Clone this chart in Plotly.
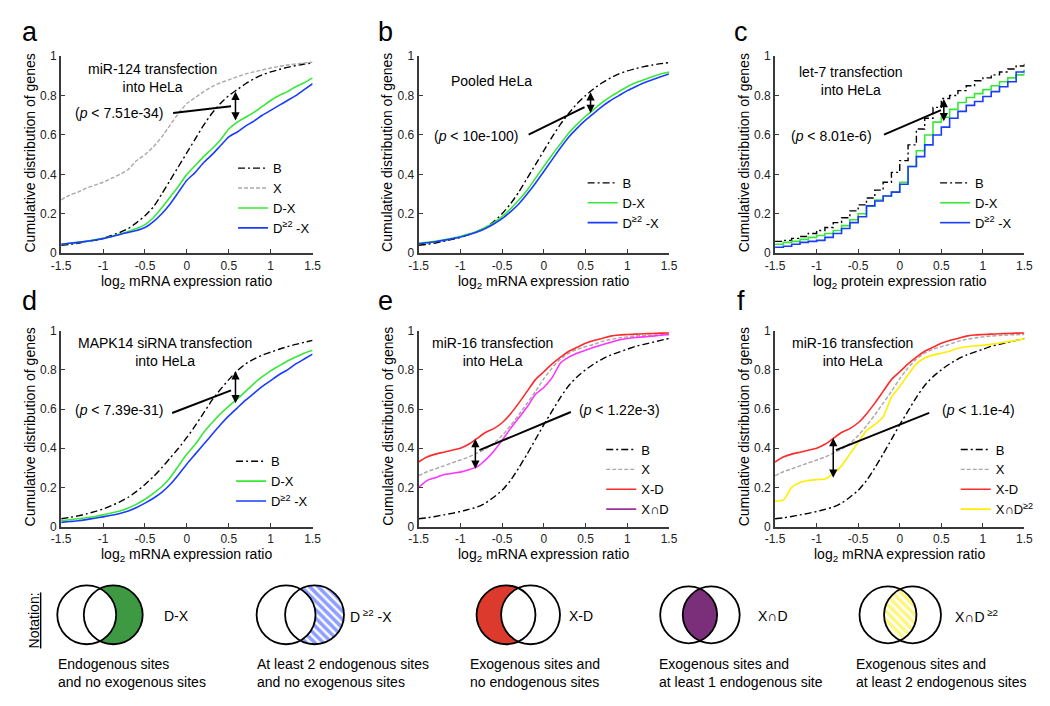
import numpy as np
import plotly.graph_objects as go

W, H = 1050, 706
FONT = "Liberation Sans, Arial, Helvetica, sans-serif"

# ---------------- data ----------------
log2_ratio = [-1.5, -1.4, -1.3, -1.2, -1.1, -1.0, -0.9, -0.8, -0.7, -0.6, -0.5,
              -0.4, -0.3, -0.2, -0.1, 0.0, 0.1, 0.2, 0.3, 0.4, 0.5,
              0.6, 0.7, 0.8, 0.9, 1.0, 1.1, 1.2, 1.3, 1.4, 1.5]
x_ticks = [-1.5, -1, -0.5, 0, 0.5, 1, 1.5]
x_ticktext = ["-1.5", "-1", "-0.5", "0", "0.5", "1", "1.5"]
y_ticks = [0, 0.2, 0.4, 0.6, 0.8, 1]
y_ticktext = ["0", "0.2", "0.4", "0.6", "0.8", "1"]

# panel a: miR-124 transfection
a_B = [0.04, 0.045, 0.05, 0.06, 0.065, 0.075, 0.09, 0.105, 0.125, 0.155, 0.19,
       0.235, 0.30, 0.37, 0.44, 0.51, 0.58, 0.65, 0.71, 0.76, 0.80,
       0.83, 0.86, 0.885, 0.905, 0.92, 0.932, 0.943, 0.952, 0.96, 0.966]
a_X = [0.27, 0.295, 0.31, 0.33, 0.345, 0.36, 0.38, 0.40, 0.425, 0.47, 0.50,
       0.54, 0.59, 0.65, 0.71, 0.76, 0.79, 0.82, 0.845, 0.865, 0.88,
       0.895, 0.91, 0.92, 0.93, 0.94, 0.948, 0.955, 0.96, 0.965, 0.97]
a_DX = [0.045, 0.05, 0.055, 0.06, 0.068, 0.075, 0.085, 0.097, 0.11, 0.125, 0.145,
        0.18, 0.23, 0.285, 0.34, 0.40, 0.445, 0.49, 0.53, 0.575, 0.63,
        0.665, 0.69, 0.715, 0.745, 0.775, 0.80, 0.82, 0.845, 0.865, 0.89]
a_D2X = [0.045, 0.05, 0.055, 0.06, 0.067, 0.074, 0.083, 0.095, 0.105, 0.115, 0.13,
         0.16, 0.20, 0.25, 0.31, 0.37, 0.41, 0.46, 0.50, 0.545, 0.59,
         0.615, 0.645, 0.67, 0.70, 0.725, 0.75, 0.775, 0.80, 0.83, 0.86]

# panel b: pooled HeLa
b_B = [0.04, 0.045, 0.052, 0.06, 0.07, 0.08, 0.095, 0.11, 0.13, 0.16, 0.20,
       0.25, 0.31, 0.38, 0.45, 0.52, 0.59, 0.655, 0.71, 0.76, 0.80,
       0.835, 0.865, 0.89, 0.91, 0.925, 0.937, 0.947, 0.955, 0.962, 0.967]
b_DX = [0.05, 0.055, 0.06, 0.068, 0.076, 0.085, 0.097, 0.11, 0.13, 0.155, 0.185,
        0.225, 0.27, 0.32, 0.38, 0.44, 0.50, 0.555, 0.61, 0.655, 0.695,
        0.73, 0.765, 0.795, 0.82, 0.845, 0.865, 0.88, 0.895, 0.91, 0.92]
b_D2X = [0.048, 0.053, 0.058, 0.065, 0.073, 0.082, 0.094, 0.107, 0.125, 0.148, 0.175,
         0.21, 0.25, 0.30, 0.355, 0.415, 0.475, 0.535, 0.59, 0.635, 0.675,
         0.71, 0.745, 0.775, 0.80, 0.825, 0.845, 0.865, 0.88, 0.895, 0.91]

# panel c: let-7 transfection (protein, stepped)
c_B = [0.06, 0.065, 0.075, 0.085, 0.10, 0.115, 0.13, 0.155, 0.18, 0.215, 0.245,
       0.28, 0.32, 0.36, 0.41, 0.47, 0.55, 0.63, 0.685, 0.74, 0.785,
       0.80, 0.825, 0.85, 0.875, 0.89, 0.905, 0.92, 0.935, 0.95, 0.965]
c_DX = [0.045, 0.055, 0.06, 0.07, 0.08, 0.09, 0.10, 0.115, 0.14, 0.17, 0.20,
        0.24, 0.27, 0.29, 0.31, 0.36, 0.44, 0.52, 0.60, 0.665, 0.69,
        0.73, 0.765, 0.79, 0.81, 0.83, 0.85, 0.87, 0.89, 0.905, 0.93]
c_D2X = [0.03, 0.035, 0.045, 0.055, 0.06, 0.065, 0.08, 0.10, 0.125, 0.155, 0.185,
         0.24, 0.265, 0.29, 0.31, 0.35, 0.44, 0.49, 0.55, 0.60, 0.64,
         0.685, 0.72, 0.75, 0.77, 0.795, 0.82, 0.845, 0.87, 0.92, 0.93]

# panel d: MAPK14 siRNA transfection
d_B = [0.04, 0.047, 0.055, 0.065, 0.077, 0.09, 0.107, 0.127, 0.15, 0.18, 0.215,
       0.255, 0.30, 0.35, 0.40, 0.455, 0.515, 0.58, 0.645, 0.70, 0.75,
       0.795, 0.83, 0.855, 0.875, 0.89, 0.905, 0.918, 0.93, 0.94, 0.95]
d_DX = [0.03, 0.035, 0.04, 0.045, 0.052, 0.06, 0.07, 0.08, 0.095, 0.115, 0.14,
        0.17, 0.205, 0.25, 0.31, 0.37, 0.42, 0.48, 0.53, 0.575, 0.615,
        0.65, 0.69, 0.73, 0.765, 0.795, 0.82, 0.845, 0.865, 0.885, 0.90]
d_D2X = [0.022, 0.026, 0.03, 0.036, 0.043, 0.05, 0.058, 0.067, 0.08, 0.098, 0.12,
         0.145, 0.175, 0.215, 0.265, 0.32, 0.37, 0.42, 0.47, 0.52, 0.565,
         0.605, 0.645, 0.68, 0.715, 0.745, 0.775, 0.80, 0.83, 0.855, 0.88]

# panels e, f: miR-16 transfection
ef_B = [0.04, 0.045, 0.052, 0.06, 0.068, 0.077, 0.088, 0.10, 0.12, 0.15, 0.185,
        0.235, 0.30, 0.37, 0.445, 0.52, 0.59, 0.66, 0.72, 0.765, 0.80,
        0.83, 0.855, 0.875, 0.89, 0.905, 0.92, 0.93, 0.94, 0.95, 0.96]
ef_X = [0.26, 0.28, 0.295, 0.31, 0.325, 0.34, 0.355, 0.375, 0.395, 0.425, 0.465,
        0.515, 0.57, 0.63, 0.69, 0.755, 0.81, 0.855, 0.885, 0.905, 0.918,
        0.93, 0.945, 0.955, 0.962, 0.968, 0.972, 0.975, 0.977, 0.979, 0.98]
ef_XD = [0.33, 0.355, 0.37, 0.38, 0.39, 0.40, 0.42, 0.45, 0.48, 0.50, 0.53,
         0.575, 0.63, 0.69, 0.75, 0.79, 0.83, 0.865, 0.895, 0.915, 0.935,
         0.95, 0.96, 0.972, 0.978, 0.98, 0.982, 0.984, 0.985, 0.987, 0.988]
e_XnD = [0.20, 0.235, 0.25, 0.265, 0.272, 0.278, 0.29, 0.305, 0.34, 0.385, 0.44,
         0.50, 0.555, 0.61, 0.675, 0.71, 0.76, 0.835, 0.865, 0.885, 0.90,
         0.915, 0.928, 0.94, 0.952, 0.96, 0.965, 0.968, 0.972, 0.976, 0.98]
f_XnD2 = [0.13, 0.135, 0.20, 0.225, 0.235, 0.24, 0.243, 0.27, 0.31, 0.37, 0.43,
          0.49, 0.52, 0.56, 0.66, 0.715, 0.775, 0.83, 0.86, 0.875, 0.885,
          0.895, 0.91, 0.918, 0.922, 0.925, 0.93, 0.937, 0.943, 0.95, 0.958]

# ---------------- styles ----------------
STY = {
    "B": dict(color="#000000", dash="7px,3px,2px,3px", width=1.4),
    "X": dict(color="#a8a8a8", dash="4px,2px", width=1.4),
    "DX": dict(color="#38e838", width=1.6),
    "D2X": dict(color="#1a3cff", width=1.6),
    "XD": dict(color="#ff2a2a", width=1.6),
    "XnD": dict(color="#ff33ff", width=1.6),
    "XnD_leg": dict(color="#993399", width=1.6),
    "XnD2": dict(color="#ffee00", width=1.6),
}
NAMES = {"B": "B", "X": "X", "DX": "D-X", "D2X": "D<sup>≥2</sup> -X",
         "XD": "X-D", "XnD": "X∩D", "XnD2": "X∩D<sup>≥2</sup>"}

cols_px = [(44, 300), (408, 663), (771, 1025)]
rows_px = [(42, 243), (322, 522)]

panels = [
    dict(letter="a", r=0, c=0, series=[("B", a_B), ("X", a_X), ("DX", a_DX), ("D2X", a_D2X)],
         shape="spline", xt="log<sub>2</sub> mRNA expression ratio",
         title="miR-124 transfection<br>into HeLa", tpos=(137, 64),
         ptext="(<i>p</i> < 7.51e-34)", ppos=(103, 100),
         pline=(-0.164, 0.711, 0.527, 0.746), arrow=(0.58, 0.673, 0.827), leg=(219, 141)),
    dict(letter="b", r=0, c=1, series=[("B", b_B), ("DX", b_DX), ("D2X", b_D2X)],
         shape="spline", xt="log<sub>2</sub> mRNA expression ratio",
         title="Pooled HeLa", tpos=(482, 67),
         ptext="(<i>p</i> < 10e-100)", ppos=(466, 123),
         pline=(-0.182, 0.602, 0.488, 0.741), arrow=(0.56, 0.711, 0.824), leg=(575, 156)),
    dict(letter="c", r=0, c=2, series=[("B", c_B), ("DX", c_DX), ("D2X", c_D2X)],
         shape="hv", xt="log<sub>2</sub> protein expression ratio",
         title="let-7 transfection<br>into HeLa", tpos=(848, 67),
         ptext="(<i>p</i> < 8.01e-6)", ppos=(828, 123),
         pline=(-0.189, 0.602, 0.496, 0.726), arrow=(0.53, 0.67, 0.79), leg=(934, 156)),
    dict(letter="d", r=1, c=0, series=[("B", d_B), ("DX", d_DX), ("D2X", d_D2X)],
         shape="spline", xt="log<sub>2</sub> mRNA expression ratio",
         title="MAPK14 siRNA transfection<br>into HeLa", tpos=(150, 344),
         ptext="(<i>p</i> < 7.39e-31)", ppos=(103, 403),
         pline=(-0.176, 0.58, 0.527, 0.695), arrow=(0.58, 0.63, 0.80), leg=(217, 440)),
    dict(letter="e", r=1, c=1, series=[("B", ef_B), ("X", ef_X), ("XD", ef_XD), ("XnD", e_XnD)],
         shape="spline", xt="log<sub>2</sub> mRNA expression ratio",
         title="miR-16 transfection<br>into HeLa", tpos=(483, 344),
         ptext="(<i>p</i> < 1.22e-3)", ppos=(613, 403),
         pline=(0.324, 0.585, -0.771, 0.39), arrow=(-0.82, 0.295, 0.455), leg=(594, 428)),
    dict(letter="f", r=1, c=2, series=[("B", ef_B), ("X", ef_X), ("XD", ef_XD), ("XnD2", f_XnD2)],
         shape="spline", xt="log<sub>2</sub> mRNA expression ratio",
         title="miR-16 transfection<br>into HeLa", tpos=(850, 344),
         ptext="(<i>p</i> < 1.1e-4)", ppos=(978, 403),
         pline=(0.354, 0.58, -0.768, 0.39), arrow=(-0.80, 0.25, 0.46), leg=(955, 428)),
]


def fx(p):
    return p / W


def fy(p):
    return 1 - p / H


fig = go.Figure()
layout = dict(width=W, height=H, margin=dict(l=0, r=0, t=0, b=0),
              paper_bgcolor="white", plot_bgcolor="rgba(0,0,0,0)",
              font=dict(family=FONT, color="black", size=14),
              showlegend=True, hovermode=False)
annotations = []
shapes = []

for i, p in enumerate(panels, start=1):
    xa = "x" if i == 1 else f"x{i}"
    ya = "y" if i == 1 else f"y{i}"
    legname = "legend" if i == 1 else f"legend{i}"
    x0, x1 = cols_px[p["c"]]
    y0, y1 = rows_px[p["r"]]
    axcommon = dict(showline=True, linecolor="#3a3a3a", linewidth=2, showgrid=False,
                    zeroline=False, ticks="inside", ticklen=4, tickwidth=1,
                    tickcolor="#3a3a3a", tickfont=dict(size=12, color="#222"),
                    fixedrange=True)
    layout["xaxis" if i == 1 else f"xaxis{i}"] = dict(
        domain=[fx(x0), fx(x1)], range=[-1.5, 1.5], tickvals=x_ticks, ticktext=x_ticktext,
        anchor=ya, **axcommon)
    layout["yaxis" if i == 1 else f"yaxis{i}"] = dict(
        domain=[fy(y1), fy(y0)], range=[0, 1], tickvals=y_ticks, ticktext=y_ticktext,
        anchor=xa, **axcommon)
    layout[legname] = dict(x=fx(p["leg"][0]), y=fy(p["leg"][1]), xanchor="left", yanchor="top",
                           bgcolor="rgba(0,0,0,0)", font=dict(size=13, family=FONT),
                           tracegroupgap=0, itemclick=False, itemdoubleclick=False)

    for key, vals in p["series"]:
        sty = STY[key]
        if key == "XnD":
            fig.add_trace(go.Scatter(x=log2_ratio, y=vals, mode="lines",
                                     line=dict(shape=p["shape"], smoothing=0.6, **sty),
                                     xaxis=xa, yaxis=ya, showlegend=False, hoverinfo="skip"))
            fig.add_trace(go.Scatter(x=[None], y=[None], mode="lines", line=STY["XnD_leg"],
                                     xaxis=xa, yaxis=ya, name=NAMES[key], legend=legname))
        else:
            fig.add_trace(go.Scatter(x=log2_ratio, y=vals, mode="lines",
                                     line=dict(shape=p["shape"], smoothing=0.6 if p["shape"] == "spline" else None, **sty),
                                     xaxis=xa, yaxis=ya, name=NAMES[key], legend=legname,
                                     hoverinfo="skip"))

    # panel letter
    annotations.append(dict(text=p["letter"], x=fx(12 + [0, 362, 724][p["c"]]),
                            y=fy(17 if p["r"] == 0 else 292), xref="paper", yref="paper",
                            showarrow=False, font=dict(size=27), xanchor="center", yanchor="middle"))
    # axis titles
    annotations.append(dict(text="Cumulative distribution of genes", textangle=-90,
                            x=fx(x0 - 32), y=fy((y0 + y1) / 2 - 2), xref="paper", yref="paper",
                            showarrow=False, font=dict(size=14), xanchor="center", yanchor="middle"))
    annotations.append(dict(text=p["xt"], x=fx((x0 + x1) / 2), y=fy(y1 + 29),
                            xref="paper", yref="paper", showarrow=False, font=dict(size=14),
                            xanchor="center", yanchor="middle"))
    # inner title
    annotations.append(dict(text=p["title"], x=fx(p["tpos"][0]), y=fy(p["tpos"][1]),
                            xref="paper", yref="paper", showarrow=False, font=dict(size=14),
                            xanchor="center", yanchor="middle"))
    # p value
    annotations.append(dict(text=p["ptext"], x=fx(p["ppos"][0]), y=fy(p["ppos"][1]),
                            xref="paper", yref="paper", showarrow=False, font=dict(size=14),
                            xanchor="center", yanchor="middle"))
    # double arrow
    ax_, ylo, yhi = p["arrow"]
    annotations.append(dict(text="", x=ax_, y=ylo, ax=ax_, ay=yhi, xref=xa, yref=ya,
                            axref=xa, ayref=ya, showarrow=True, arrowhead=2, arrowsize=1.1,
                            arrowwidth=1.5, arrowcolor="black", arrowside="end+start",
                            standoff=0, startstandoff=0))
    # pointer line
    lx0, ly0, lx1, ly1 = p["pline"]
    shapes.append(dict(type="line", xref=xa, yref=ya, x0=lx0, y0=ly0, x1=lx1, y1=ly1,
                       line=dict(color="black", width=2)))

# ---------------- notation row (pixel overlay axes) ----------------
layout["xaxis7"] = dict(domain=[0, 1], range=[0, W], visible=False, fixedrange=True, anchor="y7")
layout["yaxis7"] = dict(domain=[0, 1], range=[H, 0], visible=False, fixedrange=True, anchor="x7")

venn_y = 612


def arc(cx, cy, r, a0, a1, n=60):
    t = np.linspace(a0, a1, n)
    return list(cx + r * np.cos(t)), list(cy + r * np.sin(t))


def region(kind, cl, cr, r):
    d = cr - cl
    phi = np.arccos((d / 2) / r)
    if kind == "right_only":
        xa1, ya1 = arc(cr, venn_y, r, -(np.pi - phi), np.pi - phi)
        xa2, ya2 = arc(cl, venn_y, r, phi, -phi)
    elif kind == "left_only":
        xa1, ya1 = arc(cl, venn_y, r, phi, 2 * np.pi - phi)
        xa2, ya2 = arc(cr, venn_y, r, np.pi + phi, np.pi - phi)
    else:  # lens
        xa1, ya1 = arc(cl, venn_y, r, -phi, phi)
        xa2, ya2 = arc(cr, venn_y, r, np.pi - phi, np.pi + phi)
    return xa1 + xa2, ya1 + ya2


venns = [
    dict(cl=70, cr=97, r=30, kind="right_only", color="#3e9a42", hatch=False,
         label="D-X", lx=147, desc="Endogenous sites<br>and no exogenous sites", dx=39),
    dict(cl=273, cr=302, r=30, kind="right_only", color="#1f3fff", hatch=True,
         label="D<sup> ≥2</sup> -X", lx=336, desc="At least 2 endogenous sites<br>and no exogenous sites", dx=241),
    dict(cl=497, cr=522, r=30, kind="left_only", color="#dc3a2c", hatch=False,
         label="X-D", lx=559, desc="Exogenous sites and<br>no endogenous sites", dx=458),
    dict(cl=683, cr=706, r=29, kind="lens", color="#7b2f7b", hatch=False,
         label="X∩D", lx=752, desc="Exogenous sites and<br>at least 1 endogenous site", dx=651),
    dict(cl=886, cr=911, r=29, kind="lens", color="#ffee00", hatch=True,
         label="X∩D<sup> ≥2</sup>", lx=952, desc="Exogenous sites and<br>at least 2 endogenous sites", dx=851),
]

for v in venns:
    xs, ys = region(v["kind"], v["cl"], v["cr"], v["r"])
    if v["hatch"]:
        fig.add_trace(go.Scatter(x=xs, y=ys, mode="lines", fill="toself", line=dict(width=0),
                                 fillcolor="white",
                                 fillpattern=dict(shape="\\", fgcolor=v["color"], bgcolor="white",
                                                  size=6, solidity=0.6),
                                 xaxis="x7", yaxis="y7", showlegend=False, hoverinfo="skip"))
    else:
        fig.add_trace(go.Scatter(x=xs, y=ys, mode="lines", fill="toself", line=dict(width=0),
                                 fillcolor=v["color"], xaxis="x7", yaxis="y7",
                                 showlegend=False, hoverinfo="skip"))
    for cx in (v["cl"], v["cr"]):
        shapes.append(dict(type="circle", xref="x7", yref="y7", x0=cx - v["r"], x1=cx + v["r"],
                           y0=venn_y - v["r"], y1=venn_y + v["r"], line=dict(color="black", width=1.8)))
    annotations.append(dict(text=v["label"], x=fx(v["lx"]), y=fy(venn_y + 1), xref="paper", yref="paper",
                            showarrow=False, xanchor="left", yanchor="middle", font=dict(size=14)))
    annotations.append(dict(text=v["desc"], x=fx(v["dx"]), y=fy(671), xref="paper", yref="paper",
                            showarrow=False, xanchor="left", yanchor="middle", align="left",
                            font=dict(size=14)))

annotations.append(dict(text="<u>Notation:</u>", textangle=-90, x=fx(16), y=fy(618),
                        xref="paper", yref="paper", showarrow=False, font=dict(size=14),
                        xanchor="center", yanchor="middle"))

layout["annotations"] = annotations
layout["shapes"] = shapes
fig.update_layout(**layout)
fig.write_html("out.html")
